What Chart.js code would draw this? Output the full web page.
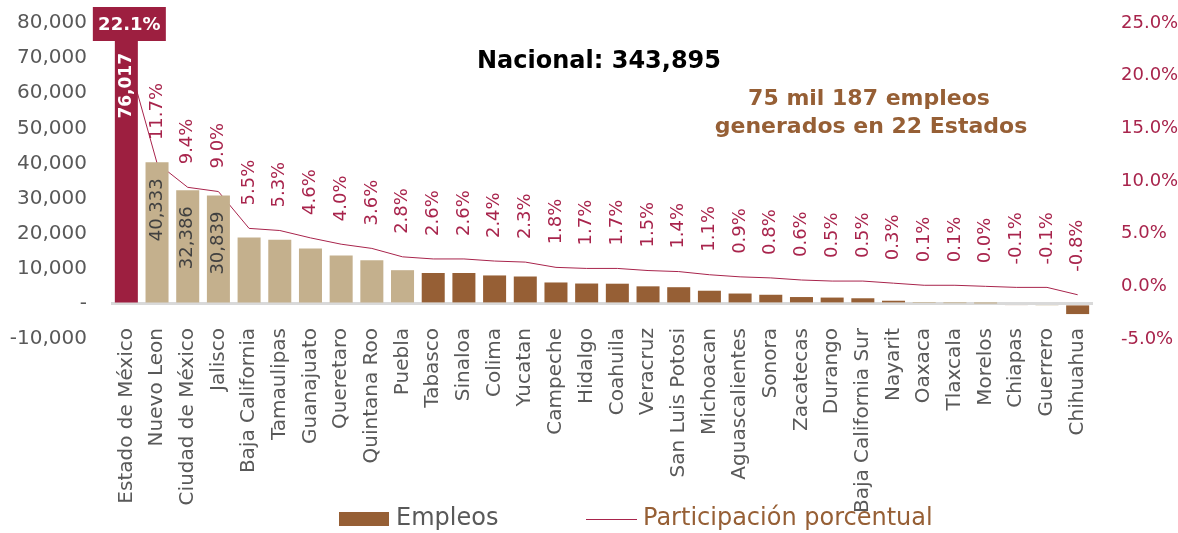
<!DOCTYPE html>
<html>
<head>
<meta charset="utf-8"/>
<style>
  body { margin: 0; padding: 0; background: #ffffff; }
  #wrap { width: 1178px; height: 533px; position: relative; }
</style>
<script src="https://cdn.jsdelivr.net/npm/chart.js@4"></script>
</head>
<body>
<div id="wrap"><canvas id="chart"></canvas></div>
<script>
var estados = ['Estado de México', 'Nuevo Leon', 'Ciudad de México', 'Jalisco', 'Baja California',
  'Tamaulipas', 'Guanajuato', 'Queretaro', 'Quintana Roo', 'Puebla', 'Tabasco', 'Sinaloa', 'Colima',
  'Yucatan', 'Campeche', 'Hidalgo', 'Coahuila', 'Veracruz', 'San Luis Potosi', 'Michoacan',
  'Aguascalientes', 'Sonora', 'Zacatecas', 'Durango', 'Baja California Sur', 'Nayarit', 'Oaxaca',
  'Tlaxcala', 'Morelos', 'Chiapas', 'Guerrero', 'Chihuahua'];
var empleos = [76017, 40333, 32386, 30839, 18900, 18300, 15800, 13800, 12400, 9600, 8800, 8800, 8100,
  7800, 6100, 5800, 5750, 5000, 4750, 3750, 2950, 2600, 1950, 1800, 1600, 900, 250, 200, 100,
  -450, -350, -2900];
var participacion = [22.1, 11.7, 9.4, 9.0, 5.5, 5.3, 4.6, 4.0, 3.6, 2.8, 2.6, 2.6, 2.4, 2.3, 1.8, 1.7,
  1.7, 1.5, 1.4, 1.1, 0.9, 0.8, 0.6, 0.5, 0.5, 0.3, 0.1, 0.1, 0.0, -0.1, -0.1, -0.8];
var etiquetasValor = [0, 1, 2, 3];   // bars that carry their value
var nacional = 'Nacional: 343,895';
var nota = ['75 mil 187 empleos', 'generados en 22 Estados'];

var GUINDA = '#9d1f40', ARENA = '#c4b08d', CAFE = '#965f35', ROJO = '#a8244c', GRIS = '#595959';
var FONT = 'DejaVu Sans';

var barColors = estados.map(function (e, i) {
  if (i === 0) return GUINDA;
  if (i < 10) return ARENA;
  if (e === 'Oaxaca' || e === 'Tlaxcala' || e === 'Morelos' || e === 'Guerrero') return ARENA;
  return CAFE;
});

function sinPadding(s) { s.paddingTop = 0; s.paddingBottom = 0; }

var etiquetas = {
  id: 'etiquetas',
  afterLayout: function (chart) {
    // category labels start just under the zero line, not under the -10,000 tick
    chart.scales.x.top = chart.chartArea.bottom - 19;
  },
  afterDatasetsDraw: function (chart) {
    var ctx = chart.ctx;
    var bars = chart.getDatasetMeta(0).data;
    var pts = chart.getDatasetMeta(1).data;
    ctx.save();
    pts.forEach(function (p, i) {
      var txt = participacion[i].toFixed(1) + '%';
      if (i === 0) {
        ctx.font = 'bold 18px "' + FONT + '"';
        var cx = bars[0].x + 3;
        ctx.fillStyle = GUINDA;
        ctx.fillRect(cx - 36.5, 7, 73, 34);
        ctx.fillStyle = '#ffffff';
        ctx.textAlign = 'center';
        ctx.textBaseline = 'middle';
        ctx.fillText(txt, cx, 25);
        return;
      }
      ctx.save();
      ctx.translate(p.x, p.y - 23);
      ctx.rotate(-Math.PI / 2);
      ctx.font = '18px "' + FONT + '"';
      ctx.fillStyle = ROJO;
      ctx.textAlign = 'left';
      ctx.textBaseline = 'middle';
      ctx.fillText(txt, 0, 0);
      ctx.restore();
    });
    etiquetasValor.forEach(function (i) {
      var b = bars[i];
      ctx.save();
      ctx.translate(b.x, b.y + 16);
      ctx.rotate(-Math.PI / 2);
      ctx.font = (i === 0 ? 'bold 17px "' : '18px "') + FONT + '"';
      ctx.fillStyle = i === 0 ? '#ffffff' : '#404040';
      ctx.textAlign = 'right';
      ctx.textBaseline = 'middle';
      ctx.fillText(empleos[i].toLocaleString('en-US'), 0, 0);
      ctx.restore();
    });
    ctx.restore();
  },
  afterDraw: function (chart) {
    var ctx = chart.ctx;
    ctx.save();
    ctx.textAlign = 'center';
    ctx.textBaseline = 'middle';
    ctx.font = 'bold 24px "' + FONT + '"';
    ctx.fillStyle = '#000000';
    ctx.fillText(nacional, 599, 62);
    ctx.font = 'bold 22px "' + FONT + '"';
    ctx.fillStyle = CAFE;
    ctx.fillText(nota[0], 869, 99);
    ctx.fillText(nota[1], 871, 127);
    // legend
    ctx.fillStyle = CAFE;
    ctx.fillRect(339, 512, 50, 14);
    ctx.font = '24px "' + FONT + '"';
    ctx.textAlign = 'left';
    ctx.fillStyle = GRIS;
    ctx.fillText('Empleos', 396, 519);
    ctx.strokeStyle = ROJO;
    ctx.lineWidth = 1;
    ctx.beginPath();
    ctx.moveTo(586, 519.5);
    ctx.lineTo(637, 519.5);
    ctx.stroke();
    ctx.fillStyle = CAFE;
    ctx.fillText('Participación porcentual', 643, 519);
    ctx.restore();
  }
};

new Chart(document.getElementById('chart'), {
  data: {
    labels: estados,
    datasets: [{
      type: 'bar',
      label: 'Empleos',
      data: empleos,
      backgroundColor: barColors,
      barPercentage: 0.75,
      categoryPercentage: 1,
      yAxisID: 'y',
      order: 1
    }, {
      type: 'line',
      label: 'Participación porcentual',
      data: participacion,
      borderColor: ROJO,
      borderWidth: 1,
      pointRadius: 0,
      tension: 0,
      yAxisID: 'y1',
      order: 2
    }]
  },
  options: {
    responsive: true,
    maintainAspectRatio: false,
    animation: false,
    layout: { padding: { top: 23, left: 0, right: 0, bottom: 0 } },
    plugins: { legend: { display: false }, tooltip: { enabled: false } },
    scales: {
      x: {
        grid: { display: false },
        border: { display: false },
        afterFit: function (s) { s.height = 194; s.paddingLeft = 0; s.paddingRight = 0; },
        ticks: {
          autoSkip: false, minRotation: 90, maxRotation: 90, padding: 0,
          color: GRIS, font: { family: FONT, size: 20 }
        }
      },
      y: {
        position: 'left',
        min: -10000, max: 80000,
        afterFit: function (s) { s.width = 111; sinPadding(s); },
        border: { display: false },
        grid: {
          drawTicks: false,
          color: function (c) { return c.tick && c.tick.value === 0 ? '#d9d9d9' : 'rgba(0,0,0,0)'; },
          lineWidth: 3
        },
        ticks: {
          stepSize: 10000, padding: 24, color: GRIS, font: { family: FONT, size: 20 },
          callback: function (v) { return v === 0 ? '-' : v.toLocaleString('en-US'); }
        }
      },
      y1: {
        position: 'right',
        min: -5, max: 25,
        afterFit: function (s) { s.width = 85; sinPadding(s); },
        border: { display: false },
        grid: { display: false, drawOnChartArea: false },
        ticks: {
          stepSize: 5, padding: 20, color: ROJO, font: { family: FONT, size: 18 },
          callback: function (v) { return v.toFixed(1) + '%'; }
        }
      }
    }
  },
  plugins: [etiquetas]
});
</script>
</body>
</html>
